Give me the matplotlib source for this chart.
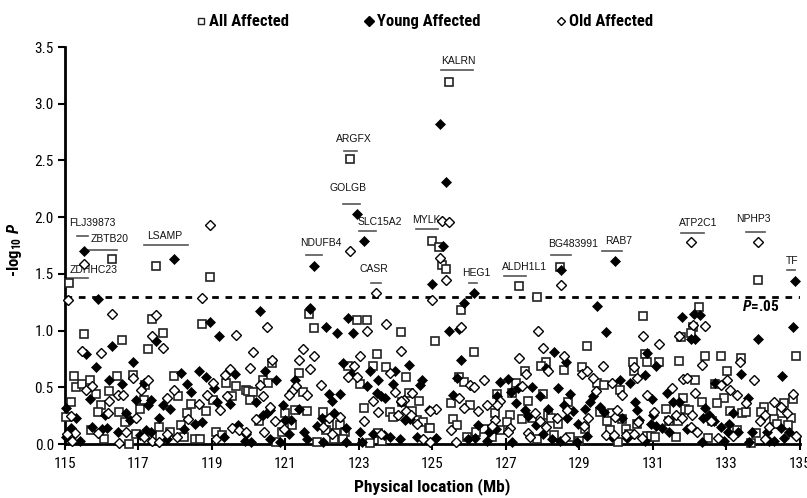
import matplotlib
matplotlib.use("Agg")
import matplotlib.pyplot as plt
from matplotlib import font_manager
from matplotlib.lines import Line2D

# narrow sans like the original Arial Narrow, first one that is installed
installed = set(f.name for f in font_manager.fontManager.ttflist)
narrow = next((n for n in ['Liberation Sans Narrow', 'Roboto Condensed', 'Archivo Narrow',
                           'PT Sans Narrow', 'Liberation Sans'] if n in installed), 'DejaVu Sans')

plt.rcParams['font.family'] = [narrow, 'DejaVu Sans']
plt.rcParams['mathtext.fontset'] = 'custom'
plt.rcParams['mathtext.rm'] = narrow
plt.rcParams['mathtext.it'] = narrow + ':italic'
plt.rcParams['mathtext.bf'] = narrow + ':bold'
plt.rcParams['mathtext.bfit'] = narrow + ':italic:bold'

# -log10 P per marker, position in Mb
all_x = [115.10, 116.27, 117.48, 118.94, 125.44, 122.76, 125.00, 125.18, 125.27, 125.37,
         127.35, 127.86, 128.47, 133.87,
         117.37, 115.53, 116.56, 117.66, 117.27, 118.73, 115.24, 115.31, 115.47, 115.67,
         115.84, 116.19, 116.43, 116.84, 117.19, 117.97, 118.07, 115.17, 115.98, 115.90,
         115.04, 116.47, 116.64, 117.04, 117.14, 117.57, 118.33, 118.44, 118.85, 119.02,
         115.72, 116.07, 116.94, 117.36, 117.85, 118.15, 118.23, 118.54, 118.67, 119.12,
         119.28, 119.37, 119.56, 119.66, 119.92, 116.74,
         121.64, 121.79, 122.94, 123.21, 124.14, 120.63, 121.36, 123.48, 123.38, 123.73,
         122.71, 124.27, 120.38, 120.52, 119.98, 120.13, 120.04, 121.49, 123.04, 124.36,
         124.64, 124.18, 123.14, 121.25, 121.58, 122.03, 120.98, 123.84, 124.45, 120.29,
         121.17, 122.20, 122.48, 123.93, 124.57, 124.75, 124.91, 120.90, 122.38, 122.11,
         122.63, 123.52, 120.75, 121.86, 122.33, 122.57, 123.29, 123.63,
         125.77, 125.08, 126.14, 129.20, 128.08, 127.95, 128.57, 129.08, 127.52, 125.73,
         125.87, 127.28, 129.48, 129.66, 126.77, 127.18, 128.02, 127.59, 125.52, 126.02,
         128.68, 126.71, 127.11, 128.16, 128.22, 129.55, 129.88, 125.57, 125.66, 127.04,
         127.45, 127.70, 128.41, 129.75, 124.93, 126.40, 126.84, 126.20, 128.31, 129.16,
         129.84, 125.95, 126.63, 127.84, 128.75, 128.98,
         132.26, 130.74, 132.09, 132.03, 131.78, 132.42, 132.86, 133.39, 134.89, 130.80,
         130.46, 130.84, 131.18, 131.71, 130.49, 133.03, 132.15, 132.69, 130.12, 131.83,
         132.94, 132.35, 132.76, 134.83, 134.58, 134.03, 131.35, 131.88, 131.99, 133.10,
         133.42, 133.53, 133.94, 134.50, 134.76, 130.17, 131.44, 131.69, 130.58, 134.29,
         132.60, 134.39, 130.28, 130.35, 130.85, 130.96, 131.06, 131.62, 132.50, 133.29,
         133.80, 134.67, 130.05, 133.67]
all_p = [1.42, 1.63, 1.57, 1.47, 3.19, 2.51, 1.79, 1.74, 1.58, 1.54,
         1.39, 1.30, 1.56, 1.45,
         1.10, 0.97, 0.92, 0.98, 0.84, 1.06, 0.60, 0.50, 0.53, 0.56,
         0.44, 0.47, 0.60, 0.61, 0.52, 0.60, 0.42, 0.37, 0.34, 0.28,
         0.24, 0.28, 0.19, 0.31, 0.39, 0.15, 0.27, 0.35, 0.29, 0.39,
         0.12, 0.04, 0.09, 0.08, 0.11, 0.17, 0.06, 0.04, 0.04, 0.11,
         0.08, 0.54, 0.42, 0.51, 0.48, 0.00,
         1.15, 1.02, 1.09, 1.09, 0.99, 0.71, 0.63, 0.79, 0.69, 0.68,
         0.69, 0.59, 0.56, 0.54, 0.47, 0.46, 0.39, 0.46, 0.53, 0.45,
         0.38, 0.37, 0.32, 0.30, 0.29, 0.28, 0.27, 0.28, 0.29, 0.20,
         0.17, 0.17, 0.17, 0.24, 0.21, 0.19, 0.14, 0.11, 0.10, 0.12,
         0.11, 0.10, 0.02, 0.02, 0.04, 0.04, 0.01, 0.03,
         1.18, 0.91, 0.81, 0.86, 0.72, 0.69, 0.65, 0.68, 0.64, 0.59,
         0.55, 0.54, 0.54, 0.52, 0.44, 0.45, 0.44, 0.38, 0.36, 0.34,
         0.37, 0.27, 0.26, 0.26, 0.23, 0.28, 0.27, 0.22, 0.17, 0.19,
         0.22, 0.23, 0.18, 0.20, 0.14, 0.13, 0.12, 0.11, 0.08, 0.13,
         0.12, 0.06, 0.06, 0.04, 0.06, 0.03,
         1.21, 1.13, 1.03, 0.98, 0.94, 0.78, 0.78, 0.76, 0.78, 0.79,
         0.72, 0.72, 0.72, 0.73, 0.64, 0.64, 0.56, 0.53, 0.48, 0.41,
         0.41, 0.37, 0.36, 0.40, 0.36, 0.33, 0.31, 0.31, 0.30, 0.29,
         0.27, 0.28, 0.28, 0.27, 0.23, 0.22, 0.20, 0.20, 0.18, 0.22,
         0.20, 0.18, 0.13, 0.09, 0.07, 0.07, 0.06, 0.06, 0.05, 0.12,
         0.10, 0.17, 0.02, 0.01]

young_x = [115.52, 117.96, 115.91, 125.20, 125.38, 122.94, 123.13, 121.78, 125.28, 125.00,
           126.13, 125.87, 128.49, 129.97, 134.87, 129.47, 121.67,
           118.94, 119.20, 116.28, 115.57, 117.49, 115.84, 116.84, 116.20, 116.56,
           117.15, 118.16, 118.66, 118.85, 118.33, 118.44, 119.05, 119.62, 115.67, 116.94,
           117.35, 117.27, 117.67, 117.86, 119.14, 119.49, 115.04, 116.08, 115.29, 116.65,
           116.76, 117.57, 118.55, 118.73, 118.25, 119.72, 115.17, 115.73, 116.01, 116.14,
           116.45, 117.05, 117.20, 117.34, 117.77, 115.42, 119.33, 119.90, 115.03,
           120.31, 121.66, 122.71, 122.11, 122.40, 122.84, 122.57, 122.78, 123.29, 123.53,
           123.99, 124.37, 123.93, 124.66, 124.71, 120.44, 120.74, 121.25, 123.22, 122.18,
           122.49, 122.28, 123.49, 123.61, 123.71, 124.14, 120.21, 120.93, 120.59, 120.38,
           120.50, 121.37, 120.98, 121.16, 122.31, 122.00, 124.91, 124.25, 124.38, 121.87,
           122.64, 123.04, 123.38, 123.68, 119.93, 121.11, 121.50, 120.58, 120.86, 121.59,
           122.02, 122.66, 123.09, 123.84, 124.11, 124.57, 120.07,
           125.45, 125.73, 129.73, 125.78, 128.31, 128.63, 125.66, 127.05, 126.84, 128.09,
           127.34, 127.70, 128.41, 128.75, 127.93, 127.15, 126.77, 129.37, 129.29, 125.55,
           127.28, 128.58, 129.15, 129.57, 127.52, 128.16, 128.82, 127.59, 129.66, 128.66,
           127.82, 128.02, 126.24, 126.72, 126.55, 128.97, 129.20, 125.09, 125.98, 126.16,
           126.48, 127.17, 128.25, 128.48, 128.93, 129.88,
           131.79, 132.12, 132.28, 134.83, 133.87, 132.05, 132.15, 130.85, 131.10, 133.39,
           134.53, 130.39, 130.12, 130.79, 131.39, 130.99, 131.56, 131.71, 132.69, 133.60,
           130.51, 130.58, 131.01, 132.41, 132.37, 132.53, 133.17, 130.17, 130.62, 130.94,
           131.10, 131.26, 131.94, 132.85, 133.05, 132.67, 133.08, 133.32, 133.71, 134.12,
           134.49, 134.71, 130.30, 130.80, 131.44, 132.35, 132.94, 133.62, 134.30, 134.58,
           134.17]
young_p = [1.70, 1.63, 1.28, 2.82, 2.31, 2.03, 1.79, 1.57, 1.75, 1.41,
           1.33, 1.24, 1.53, 1.61, 1.44, 1.22, 1.20,
           1.08, 0.95, 0.86, 0.79, 0.91, 0.68, 0.72, 0.56, 0.53,
           0.54, 0.63, 0.64, 0.59, 0.53, 0.46, 0.49, 0.62, 0.40, 0.39,
           0.39, 0.34, 0.34, 0.31, 0.37, 0.35, 0.32, 0.26, 0.23, 0.27,
           0.21, 0.23, 0.18, 0.19, 0.13, 0.17, 0.14, 0.15, 0.13, 0.14,
           0.11, 0.08, 0.12, 0.11, 0.04, 0.03, 0.06, 0.03, 0.06,
           1.17, 1.19, 1.11, 1.03, 0.98, 0.98, 0.71, 0.62, 0.64, 0.56,
           0.64, 0.70, 0.53, 0.52, 0.56, 0.64, 0.56, 0.56, 0.51, 0.44,
           0.44, 0.38, 0.45, 0.42, 0.41, 0.37, 0.37, 0.34, 0.30, 0.26,
           0.27, 0.31, 0.21, 0.21, 0.27, 0.23, 0.30, 0.21, 0.22, 0.16,
           0.14, 0.11, 0.09, 0.08, 0.09, 0.09, 0.11, 0.04, 0.02, 0.04,
           0.02, 0.02, 0.02, 0.06, 0.04, 0.06, 0.02,
           1.00, 1.01, 0.99, 0.74, 0.81, 0.72, 0.58, 0.57, 0.55, 0.67,
           0.49, 0.50, 0.49, 0.44, 0.42, 0.46, 0.42, 0.42, 0.37, 0.43,
           0.36, 0.34, 0.31, 0.33, 0.30, 0.31, 0.29, 0.25, 0.28, 0.23,
           0.17, 0.09, 0.17, 0.13, 0.11, 0.18, 0.07, 0.05, 0.04, 0.05,
           0.03, 0.02, 0.04, 0.03, 0.02, 0.06,
           1.12, 1.15, 1.14, 1.03, 0.93, 0.93, 0.93, 0.80, 0.69, 0.62,
           0.60, 0.54, 0.56, 0.61, 0.45, 0.40, 0.37, 0.37, 0.54, 0.41,
           0.37, 0.30, 0.26, 0.32, 0.23, 0.26, 0.27, 0.23, 0.21, 0.18,
           0.16, 0.14, 0.13, 0.15, 0.11, 0.20, 0.18, 0.11, 0.11, 0.11,
           0.14, 0.11, 0.05, 0.03, 0.11, 0.02, 0.03, 0.02, 0.03, 0.05,
           0.03]

old_x = [115.09, 115.53, 118.94, 118.73, 122.76, 125.26, 125.45, 125.20, 125.38, 123.47,
         125.00, 128.50, 132.05, 133.87,
         116.28, 117.49, 117.37, 117.66, 119.65, 115.47, 115.99, 116.84, 117.27, 115.57,
         115.73, 116.45, 116.57, 117.06, 117.78, 117.97, 119.04, 119.36, 119.50, 119.40,
         116.20, 118.86, 118.65, 119.22, 116.18, 115.17, 116.94, 118.34, 115.28, 115.90,
         116.67, 117.16, 117.79, 118.05, 119.56, 119.74, 115.06, 115.19, 116.47, 117.36,
         117.57, 119.12, 119.92,
         120.51, 123.22, 123.73, 120.13, 121.49, 121.79, 121.37, 120.64, 123.04, 124.14,
         120.04, 121.66, 122.71, 122.86, 122.95, 123.84, 121.28, 121.98, 120.31, 121.18,
         121.09, 121.58, 120.38, 123.99, 124.45, 123.38, 124.22, 124.15, 120.58, 123.52,
         124.29, 120.20, 120.73, 122.20, 122.49, 123.13, 124.07, 124.41, 124.57, 120.43,
         120.95, 122.02, 123.61, 124.75, 124.93, 122.28,
         125.78, 127.87, 128.02, 128.58, 127.35, 128.16, 127.54, 129.07, 129.20, 129.64,
         126.40, 126.02, 126.14, 129.37, 129.88, 127.43, 129.46, 125.73, 126.84, 126.48,
         126.75, 125.87, 125.09, 124.93, 126.25, 127.79, 128.66, 129.25, 126.70, 127.93,
         128.40, 129.97, 126.63, 127.11, 128.09, 125.52, 127.05, 127.59, 129.13, 128.61,
         127.66, 129.73, 125.64,
         132.10, 132.41, 130.74, 131.72, 131.17, 130.50, 133.38, 132.35, 133.76, 131.83,
         131.92, 130.58, 133.03, 132.87, 133.10, 131.53, 132.14, 130.17, 130.85, 133.30,
         134.83, 134.29, 130.03, 131.03, 133.53, 131.62, 132.08, 134.65, 134.06, 134.49,
         130.59, 131.41, 131.80, 132.03, 132.58, 133.92, 134.17, 130.26, 130.49, 130.71,
         132.21, 132.78, 133.17, 134.89, 134.05, 129.94]
old_p = [1.27, 1.59, 1.93, 1.29, 1.70, 1.97, 1.96, 1.64, 1.45, 1.33,
         1.27, 1.40, 1.78, 1.78,
         1.15, 1.14, 0.95, 0.85, 0.96, 0.82, 0.80, 0.58, 0.56, 0.48,
         0.51, 0.43, 0.43, 0.48, 0.41, 0.48, 0.54, 0.61, 0.66, 0.42,
         0.38, 0.43, 0.35, 0.30, 0.27, 0.25, 0.23, 0.22, 0.10, 0.10,
         0.11, 0.06, 0.09, 0.06, 0.14, 0.12, 0.09, 0.03, 0.01, 0.03,
         0.02, 0.04, 0.11,
         1.03, 1.00, 1.06, 0.81, 0.84, 0.78, 0.74, 0.74, 0.78, 0.82,
         0.67, 0.66, 0.59, 0.69, 0.59, 0.63, 0.51, 0.52, 0.52, 0.47,
         0.43, 0.43, 0.42, 0.46, 0.45, 0.38, 0.39, 0.38, 0.33, 0.28,
         0.29, 0.22, 0.20, 0.23, 0.24, 0.20, 0.26, 0.26, 0.18, 0.11,
         0.13, 0.15, 0.09, 0.04, 0.02, 0.09,
         1.03, 1.00, 0.85, 0.78, 0.76, 0.64, 0.62, 0.62, 0.64, 0.69,
         0.56, 0.52, 0.50, 0.58, 0.54, 0.51, 0.47, 0.41, 0.38, 0.34,
         0.34, 0.32, 0.31, 0.29, 0.29, 0.27, 0.30, 0.23, 0.21, 0.20,
         0.23, 0.24, 0.16, 0.14, 0.15, 0.12, 0.11, 0.10, 0.16, 0.05,
         0.06, 0.08, 0.02,
         1.05, 1.04, 0.95, 0.95, 0.88, 0.68, 0.72, 0.70, 0.56, 0.57,
         0.58, 0.58, 0.56, 0.52, 0.48, 0.49, 0.45, 0.43, 0.43, 0.43,
         0.44, 0.37, 0.30, 0.28, 0.36, 0.26, 0.26, 0.27, 0.26, 0.33,
         0.19, 0.21, 0.23, 0.15, 0.20, 0.20, 0.15, 0.08, 0.09, 0.05,
         0.11, 0.05, 0.07, 0.07, 0.04, 0.08]

# gene labels: name, text anchor (Mb, -log10 P), bar under the name
genes = ['FLJ39873', 'ZBTB20', 'ZDHHC23', 'LSAMP', 'NDUFB4', 'ARGFX', 'GOLGB', 'SLC15A2',
         'CASR', 'MYLK', 'KALRN', 'HEG1', 'ALDH1L1', 'BG483991', 'RAB7', 'ATP2C1',
         'NPHP3', 'TF']
gene_tx = [115.11, 115.71, 115.14, 117.24, 121.39, 122.37, 122.19, 122.97,
           123.01, 124.46, 125.25, 125.82, 126.90, 128.15, 129.71, 131.72,
           133.28, 134.62]
gene_ty = [1.95, 1.81, 1.53, 1.83, 1.775, 2.69, 2.26, 1.955,
           1.54, 1.975, 3.38, 1.51, 1.56, 1.76, 1.79, 1.945,
           1.98, 1.61]
bar_x0 = [115.33, 115.50, 115.06, 117.16, 121.55, 122.60, 122.57, 123.01,
          123.33, 124.55, 125.23, 125.99, 126.95, 128.24, 129.63, 131.78,
          133.55, 134.64]
bar_x1 = [115.63, 116.41, 115.62, 118.36, 122.00, 122.94, 123.03, 123.47,
          123.59, 125.16, 126.11, 126.21, 127.54, 128.77, 130.16, 132.39,
          134.06, 134.87]
bar_y = [1.83, 1.71, 1.46, 1.755, 1.667, 2.584, 2.116, 1.878,
         1.42, 1.896, 3.30, 1.42, 1.485, 1.67, 1.705, 1.86,
         1.865, 1.535]

threshold = 1.3

fig = plt.figure(figsize=(8.07, 4.98), dpi=100)
ax = fig.add_axes([0.0805, 0.1084, 0.9105, 0.7972])

ax.plot(all_x, all_p, linestyle='none', marker='s', markersize=5.8,
        markerfacecolor='white', markeredgecolor='#222222', markeredgewidth=1.2,
        clip_on=False, zorder=3)
ax.plot(young_x, young_p, linestyle='none', marker='D', markersize=5.2,
        markerfacecolor='black', markeredgecolor='black', markeredgewidth=0.5,
        clip_on=False, zorder=4)
ax.plot(old_x, old_p, linestyle='none', marker='D', markersize=4.6,
        markerfacecolor='white', markeredgecolor='black', markeredgewidth=1.0,
        clip_on=False, zorder=5)

ax.axhline(threshold, color='black', lw=2, linestyle=(0, (2.4, 2.4)), zorder=2)
ax.text(133.43, 1.21, r'$\boldsymbol{P}$=.05', fontsize=11, fontweight='bold',
        va='center', ha='left')

for name, tx, ty, x0, x1, yb in zip(genes, gene_tx, gene_ty, bar_x0, bar_x1, bar_y):
    ax.text(tx, ty, name, fontsize=7.5, family=['Liberation Sans', 'DejaVu Sans'],
            ha='left', va='center', color='#111111')
    ax.plot([x0, x1], [yb, yb], color='#555555', lw=1.2)

ax.set_xlim(115, 135)
ax.set_ylim(0, 3.5)
ax.set_xticks(range(115, 136, 2))
ax.set_yticks([0, 0.5, 1.0, 1.5, 2.0, 2.5, 3.0, 3.5])
ax.set_yticklabels(['0.0', '0.5', '1.0', '1.5', '2.0', '2.5', '3.0', '3.5'])
ax.tick_params(axis='x', direction='inout', length=9, width=1.5, labelsize=11, pad=5)
ax.tick_params(axis='y', direction='out', length=5, width=1.5, labelsize=11, pad=3)

for side in ['top', 'right']:
    ax.spines[side].set_visible(False)
for side in ['left', 'bottom']:
    ax.spines[side].set_linewidth(2)

ax.set_xlabel('Physical location (Mb)', fontsize=12.5, fontweight='bold', va='center')
ax.xaxis.set_label_coords(0.5, -0.108)
ax.set_ylabel(r'-log$_{\mathbf{10}}$ $\boldsymbol{P}$', fontsize=12, fontweight='bold',
              va='center')
ax.yaxis.set_label_coords(-0.068, 0.49)

handles = [
    Line2D([], [], linestyle='none', marker='s', markersize=5, markerfacecolor='white',
           markeredgecolor='#222222', markeredgewidth=1.0),
    Line2D([], [], linestyle='none', marker='D', markersize=5, markerfacecolor='black',
           markeredgecolor='black'),
    Line2D([], [], linestyle='none', marker='D', markersize=4.5, markerfacecolor='white',
           markeredgecolor='black', markeredgewidth=1.0),
]
fig.legend(handles, ['All Affected', 'Young Affected', 'Old Affected'],
           loc='center', bbox_to_anchor=(0.526, 0.956), ncol=3, frameon=False,
           prop={'weight': 'bold', 'size': 12}, handlelength=0.6, handletextpad=0.2,
           columnspacing=4.5)

fig.savefig('out.png', dpi=100)
